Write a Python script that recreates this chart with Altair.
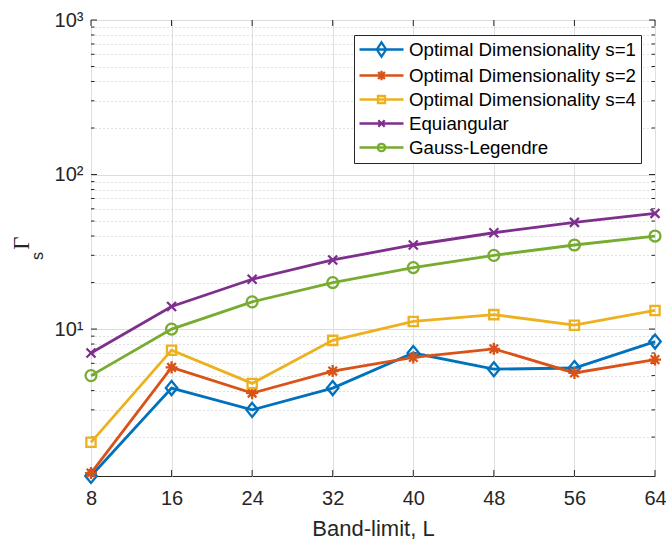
import altair as alt
import pandas as pd

# Band-limit values on the x axis
band_limit = [8, 16, 24, 32, 40, 48, 56, 64]

series_names = [
    "Optimal Dimensionality s=1",
    "Optimal Dimensionality s=2",
    "Optimal Dimensionality s=4",
    "Equiangular",
    "Gauss-Legendre",
]

# Measured values per sampling scheme
opt_s1 = [1.12, 4.15, 3.0, 4.15, 7.0, 5.5, 5.6, 8.3]
opt_s2 = [1.17, 5.65, 3.85, 5.35, 6.55, 7.45, 5.2, 6.35]
opt_s4 = [1.85, 7.3, 4.45, 8.45, 11.2, 12.4, 10.6, 13.2]
equiangular = [7.0, 14.0, 21.0, 28.0, 35.0, 42.0, 49.0, 56.0]
gauss_legendre = [5.0, 10.0, 15.0, 20.0, 25.0, 30.0, 35.0, 40.0]

series_colors = ["#0072BD", "#D95319", "#EDB120", "#7E2F8E", "#77AC30"]

# Log axis ticks
y_major = [10, 100, 1000]
y_minor = [2, 3, 4, 5, 6, 7, 8, 9, 20, 30, 40, 50, 60, 70, 80, 90,
           200, 300, 400, 500, 600, 700, 800, 900]

W, H = 564, 456
AX = "#262626"
FONT = "Liberation Sans"

rows = []
for name, vals in zip(series_names,
                      [opt_s1, opt_s2, opt_s4, equiangular, gauss_legendre]):
    for i, (L, v) in enumerate(zip(band_limit, vals)):
        rows.append({"series": name, "L": L, "value": v, "order": i})
df = pd.DataFrame(rows)

y_min = min(df["value"])

# Marker outlines (open symbols) for the data points
marker_paths = [
    "M0,-1.0L0.82,0L0,1.0L-0.82,0Z",
    "M-0.86,0L0.86,0M0,-0.86L0,0.86M-0.61,-0.61L0.61,0.61M-0.61,0.61L0.61,-0.61",
    "M-0.66,-0.66L0.66,-0.66L0.66,0.66L-0.66,0.66Z",
    "M-0.64,-0.64L0.64,0.64M-0.64,0.64L0.64,-0.64",
    "M0.78,0A0.78,0.78 0 1,1 -0.78,0A0.78,0.78 0 1,1 0.78,0Z",
]

# Legend glyphs: a line segment with the marker in its middle
seg = "M-2.75,0L2.75,0"
legend_paths = [
    seg + "M0,-0.9L0.58,0L0,0.9L-0.58,0Z",
    seg + "M-0.6,0L0.6,0M0,-0.6L0,0.6M-0.43,-0.43L0.43,0.43M-0.43,0.43L0.43,-0.43",
    seg + "M-0.44,-0.44L0.44,-0.44L0.44,0.44L-0.44,0.44Z",
    seg + "M-0.4,-0.4L0.4,0.4M-0.4,0.4L0.4,-0.4",
    seg + "M0.46,0A0.46,0.46 0 1,1 -0.46,0A0.46,0.46 0 1,1 0.46,0Z",
]

major_test = "abs(log(datum.value)/LN10 - round(log(datum.value)/LN10)) < 1e-6"

x_scale = alt.Scale(domain=[8, 64], nice=False, zero=False)
y_scale = alt.Scale(type="log", domain=[y_min, 1000], nice=False)

x_axis = alt.Axis(
    values=band_limit, title="Band-limit, L", ticks=False, domain=False,
    grid=True, gridColor="#dfdfdf", gridWidth=1,
    labelFont=FONT, labelFontSize=20, labelColor=AX, labelPadding=12,
    labelFlush=False, labelOverlap=False,
    titleFont=FONT, titleFontSize=22, titleFontWeight="normal",
    titleColor=AX, titlePadding=10,
)
y_axis = alt.Axis(
    values=y_minor + y_major, title=None, ticks=False, domain=False,
    grid=True,
    gridColor={"condition": {"test": major_test, "value": "#dcdcdc"}, "value": "#c4c4c4"},
    gridDash={"condition": {"test": major_test, "value": []}, "value": [1, 3]},
    gridWidth=1,
    labelExpr="datum.value == 10 ? '10¹' : datum.value == 100 ? '10²' : datum.value == 1000 ? '10³' : ''",
    labelFont=FONT, labelFontSize=20, labelColor=AX, labelPadding=8,
    labelFlush=False, labelOverlap=False,
)

x_enc = alt.X("L:Q", scale=x_scale, axis=x_axis)
y_enc = alt.Y("value:Q", scale=y_scale, axis=y_axis)

lines = alt.Chart(df).mark_line(strokeWidth=2.8).encode(
    x=x_enc, y=y_enc,
    color=alt.Color("series:N", scale=alt.Scale(domain=series_names, range=series_colors), legend=None),
    detail="series:N",
    order="order:Q",
)

points = alt.Chart(df).mark_point(filled=False, strokeWidth=2.3, size=196, opacity=1).encode(
    x=x_enc, y=y_enc,
    color=alt.Color("series:N", scale=alt.Scale(domain=series_names, range=series_colors), legend=None),
    shape=alt.Shape("series:N", scale=alt.Scale(domain=series_names, range=marker_paths), legend=None),
)

legend_def = alt.Legend(
    title=None, orient="none", legendX=263, legendY=15, direction="vertical",
    padding=5, rowPadding=4, symbolSize=256, symbolStrokeWidth=2.3,
    symbolOffset=13, labelOffset=18, symbolOpacity=1,
    labelFont=FONT, labelFontSize=18.7, labelColor="#000000", labelLimit=400,
    strokeColor=AX, fillColor="white", cornerRadius=0,
)

legend_layer = alt.Chart(df).mark_point(filled=False, opacity=0).encode(
    x=x_enc, y=y_enc,
    color=alt.Color("series:N", scale=alt.Scale(domain=series_names, range=series_colors), legend=legend_def),
    shape=alt.Shape("series:N", scale=alt.Scale(domain=series_names, range=legend_paths), legend=legend_def),
)

# Inward tick marks on all four sides of the box
xt = pd.DataFrame({"L": band_limit})
ymaj = pd.DataFrame({"value": y_major})
ymin_df = pd.DataFrame({"value": y_minor})

tick_style = dict(color=AX, strokeWidth=1)
ticks = [
    alt.Chart(xt).mark_rule(**tick_style).encode(x=x_enc, y=alt.value(H), y2=alt.value(H - 6)),
    alt.Chart(xt).mark_rule(**tick_style).encode(x=x_enc, y=alt.value(0), y2=alt.value(6)),
    alt.Chart(ymaj).mark_rule(**tick_style).encode(y=y_enc, x=alt.value(0), x2=alt.value(6)),
    alt.Chart(ymaj).mark_rule(**tick_style).encode(y=y_enc, x=alt.value(W), x2=alt.value(W - 6)),
    alt.Chart(ymin_df).mark_rule(**tick_style).encode(y=y_enc, x=alt.value(0), x2=alt.value(3.5)),
    alt.Chart(ymin_df).mark_rule(**tick_style).encode(y=y_enc, x=alt.value(W), x2=alt.value(W - 3.5)),
]

# Y-axis label: Gamma with subscript s, rotated
title_df = pd.DataFrame({"g": ["Γ"], "s": ["s"]})
gamma = alt.Chart(title_df).mark_text(
    font="Liberation Serif", fontSize=23, angle=270, align="center",
    baseline="middle", color=AX,
).encode(text="g:N", x=alt.value(-69), y=alt.value(223))
sub_s = alt.Chart(title_df).mark_text(
    font=FONT, fontSize=16, angle=270, align="center",
    baseline="middle", color=AX,
).encode(text="s:N", x=alt.value(-53.5), y=alt.value(236))

chart = alt.layer(
    *ticks, lines, points, legend_layer, gamma, sub_s
).resolve_scale(
    color="independent", shape="independent"
).properties(
    width=W, height=H,
    autosize=alt.AutoSizeParams(type="none"),
    padding={"left": 91, "top": 20, "right": 11, "bottom": 65},
    background="white",
).configure_view(
    stroke=AX, strokeWidth=1,
)

chart.save("out.html", embed_options={"renderer": "svg", "actions": False})
